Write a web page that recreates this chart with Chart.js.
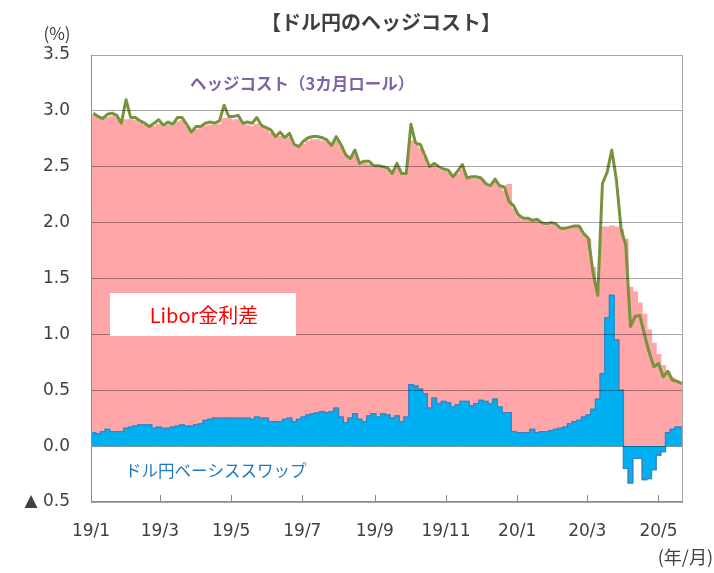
<!DOCTYPE html>
<html lang="ja">
<head>
<meta charset="utf-8">
<title>ドル円のヘッジコスト</title>
<script src="https://cdn.jsdelivr.net/npm/chart.js@4.4.1/dist/chart.umd.min.js"></script>
<style>
  html, body { margin: 0; padding: 0; background: #fff; }
  #wrap { width: 714px; height: 573px; position: relative; }
</style>
</head>
<body>
<div id="wrap"><canvas id="chart"></canvas></div>
<script>
// observation dates (days counted from 2019/1/1)
const days = [
  2, 6, 10, 14, 18, 22, 26, 30, 34, 38,
  42, 46, 50, 54, 58, 62, 66, 70, 74, 78,
  82, 86, 90, 94, 98, 102, 106, 110, 114, 118,
  122, 126, 130, 134, 138, 142, 146, 150, 154, 158,
  162, 166, 170, 174, 178, 182, 186, 190, 194, 198,
  202, 206, 210, 214, 218, 222, 226, 230, 234, 238,
  242, 246, 250, 254, 258, 262, 266, 270, 274, 278,
  282, 286, 290, 294, 298, 302, 306, 310, 314, 318,
  322, 326, 330, 334, 338, 342, 346, 350, 354, 358,
  362, 366, 370, 374, 378, 382, 386, 390, 394, 398,
  402, 406, 410, 414, 418, 422, 426, 430, 434, 438,
  442, 446, 450, 454, 458, 462, 466, 470, 474, 478,
  482, 486, 490, 494, 498, 502, 506
];

// ヘッジコスト（3カ月ロール） %
const hedgeCost = [
  2.98, 2.95, 2.93, 2.97, 2.98, 2.96, 2.89, 3.10, 2.94, 2.94,
  2.91, 2.89, 2.86, 2.89, 2.92, 2.87, 2.90, 2.88, 2.94, 2.94,
  2.88, 2.81, 2.86, 2.86, 2.89, 2.90, 2.89, 2.91, 3.05, 2.95,
  2.95, 2.96, 2.89, 2.90, 2.89, 2.94, 2.87, 2.85, 2.83, 2.77,
  2.81, 2.76, 2.80, 2.70, 2.68, 2.73, 2.76, 2.77, 2.77, 2.76,
  2.74, 2.69, 2.77, 2.70, 2.61, 2.57, 2.65, 2.53, 2.55, 2.55,
  2.51, 2.51, 2.50, 2.49, 2.44, 2.53, 2.44, 2.44, 2.88, 2.71,
  2.70, 2.60, 2.50, 2.53, 2.50, 2.48, 2.47, 2.41, 2.46, 2.52,
  2.40, 2.41, 2.41, 2.40, 2.35, 2.33, 2.39, 2.33, 2.32, 2.19,
  2.15, 2.07, 2.04, 2.04, 2.02, 2.03, 2.00, 1.99, 2.00, 1.99,
  1.95, 1.95, 1.96, 1.97, 1.97, 1.90, 1.86, 1.55, 1.35, 2.35,
  2.45, 2.65, 2.38, 1.94, 1.80, 1.07, 1.16, 1.17, 1.00, 0.84,
  0.71, 0.74, 0.62, 0.67, 0.59, 0.58, 0.56
];

// ドル円ベーシススワップ %
const basisSwap = [
  0.12, 0.11, 0.13, 0.15, 0.13, 0.13, 0.13, 0.16, 0.17, 0.18,
  0.19, 0.19, 0.19, 0.16, 0.17, 0.16, 0.16, 0.17, 0.18, 0.19,
  0.18, 0.18, 0.19, 0.20, 0.23, 0.24, 0.25, 0.25, 0.25, 0.25,
  0.25, 0.25, 0.25, 0.25, 0.24, 0.26, 0.25, 0.25, 0.22, 0.22,
  0.22, 0.24, 0.25, 0.22, 0.24, 0.26, 0.28, 0.29, 0.30, 0.31,
  0.30, 0.31, 0.34, 0.26, 0.21, 0.25, 0.29, 0.24, 0.22, 0.27,
  0.29, 0.26, 0.29, 0.28, 0.25, 0.27, 0.22, 0.26, 0.55, 0.54,
  0.51, 0.47, 0.34, 0.43, 0.38, 0.40, 0.39, 0.35, 0.37, 0.40,
  0.40, 0.36, 0.38, 0.41, 0.40, 0.38, 0.42, 0.35, 0.30, 0.30,
  0.13, 0.12, 0.12, 0.12, 0.15, 0.12, 0.13, 0.13, 0.14, 0.15,
  0.16, 0.17, 0.20, 0.22, 0.23, 0.26, 0.28, 0.33, 0.42, 0.65,
  1.15, 1.35, 0.95, 0.50, -0.20, -0.33, -0.11, -0.11, -0.30, -0.29,
  -0.21, -0.08, -0.05, 0.12, 0.15, 0.17, 0.17
];

// Libor金利差 %
const liborSpread = [
  2.84, 2.83, 2.79, 2.79, 2.82, 2.81, 2.77, 2.76, 2.75, 2.73,
  2.70, 2.68, 2.66, 2.70, 2.71, 2.69, 2.71, 2.69, 2.72, 2.72,
  2.68, 2.62, 2.64, 2.64, 2.63, 2.63, 2.62, 2.63, 2.68, 2.68,
  2.67, 2.67, 2.63, 2.62, 2.62, 2.62, 2.60, 2.58, 2.58, 2.54,
  2.55, 2.50, 2.51, 2.47, 2.43, 2.44, 2.45, 2.45, 2.44, 2.42,
  2.42, 2.37, 2.39, 2.42, 2.39, 2.30, 2.31, 2.28, 2.31, 2.25,
  2.20, 2.23, 2.19, 2.19, 2.19, 2.22, 2.22, 2.18, 2.18, 2.15,
  2.15, 2.11, 2.15, 2.08, 2.10, 2.06, 2.06, 2.05, 2.06, 2.07,
  1.99, 2.03, 2.01, 1.97, 1.94, 1.94, 1.94, 1.97, 1.98, 2.04,
  1.99, 1.93, 1.90, 1.90, 1.86, 1.89, 1.86, 1.84, 1.84, 1.82,
  1.78, 1.77, 1.75, 1.74, 1.73, 1.64, 1.57, 1.27, 1.00, 1.31,
  0.81, 0.62, 1.01, 1.44, 1.85, 1.42, 1.38, 1.28, 1.18, 1.04,
  0.92, 0.82, 0.72, 0.54, 0.46, 0.41, 0.39
];

// x axis ticks: first day of every other month
const tickDays = [0, 59, 120, 181, 243, 304, 365, 425, 486];
const tickLabels = ['19/1', '19/3', '19/5', '19/7', '19/9', '19/11', '20/1', '20/3', '20/5'];

const JP = "'Noto Sans CJK JP', 'Noto Sans', sans-serif";
const NUM = "'DejaVu Sans', Verdana, sans-serif";
const TEXT = '#404040';

const pts = arr => days.map((d, i) => ({x: d, y: arr[i]}));

// frame, inward ticks and the text labels on the chart
const decorations = {
  id: 'decorations',
  afterDraw(chart) {
    const {ctx, chartArea: a} = chart;
    const xs = chart.scales.x;
    ctx.save();
    ctx.strokeStyle = '#A6A6A6';
    ctx.lineWidth = 1;
    ctx.strokeRect(a.left + 0.5, a.top + 0.5, a.right - a.left - 1, a.bottom - a.top - 1);
    ctx.strokeStyle = '#8C8C8C';
    ctx.beginPath(); ctx.moveTo(a.left + 0.5, a.top); ctx.lineTo(a.left + 0.5, a.bottom); ctx.stroke();
    ctx.beginPath(); ctx.moveTo(a.left, a.bottom - 0.5); ctx.lineTo(a.right, a.bottom - 0.5); ctx.stroke();
    xs.ticks.forEach(t => {
      const px = Math.round(xs.getPixelForValue(t.value)) + 0.5;
      ctx.beginPath(); ctx.moveTo(px, a.bottom); ctx.lineTo(px, a.bottom - 7); ctx.stroke();
    });

    ctx.textBaseline = 'middle';
    ctx.textAlign = 'center';
    ctx.fillStyle = TEXT;
    ctx.font = `bold 20px ${JP}`;
    ctx.fillText('【ドル円のヘッジコスト】', 381, 22);
    ctx.font = `17px ${JP}`;
    ctx.fillText('(%)', 57, 34);
    ctx.textAlign = 'right';
    ctx.font = `18px ${JP}`;
    ctx.fillText('(年/月)', 713, 557);

    ctx.textAlign = 'left';
    ctx.fillStyle = '#7F62A8';
    ctx.font = `bold 16.5px ${JP}`;
    ctx.fillText('ヘッジコスト（3カ月ロール）', 190, 84);

    ctx.fillStyle = '#FFFFFF';
    ctx.fillRect(110, 293, 186, 43);
    ctx.textAlign = 'center';
    ctx.fillStyle = '#FF0000';
    ctx.font = `20px ${JP}`;
    ctx.fillText('Libor金利差', 204, 315);

    ctx.textAlign = 'left';
    ctx.fillStyle = '#1F78C4';
    ctx.font = `16.5px ${JP}`;
    ctx.fillText('ドル円ベーシススワップ', 125, 471);
    ctx.restore();
  }
};

new Chart(document.getElementById('chart'), {
  type: 'bar',
  data: {
    datasets: [
      {
        type: 'line',
        label: 'ヘッジコスト（3カ月ロール）',
        data: pts(hedgeCost),
        borderColor: '#77933C',
        borderWidth: 3,
        borderJoinStyle: 'round',
        pointRadius: 0,
        tension: 0,
        stack: 'line',
        order: 0
      },
      {
        // outline of the basis swap area
        type: 'line',
        label: 'basis outline',
        data: pts(basisSwap),
        borderColor: '#3F7FC0',
        borderWidth: 1.2,
        stepped: 'middle',
        pointRadius: 0,
        stack: 'outline',
        order: 1
      },
      {
        label: 'ドル円ベーシススワップ',
        data: pts(basisSwap),
        backgroundColor: '#00B0F0',
        borderWidth: 0,
        inflateAmount: 0.6,
        stack: 'bars',
        order: 2
      },
      {
        label: 'Libor金利差',
        data: pts(liborSpread),
        backgroundColor: '#FFA6A8',
        borderWidth: 0,
        inflateAmount: 0.6,
        stack: 'bars',
        order: 2
      }
    ]
  },
  options: {
    responsive: true,
    maintainAspectRatio: false,
    animation: false,
    barPercentage: 1,
    categoryPercentage: 1,
    layout: {padding: {top: 55, right: 31, bottom: 0, left: 0}},
    plugins: {legend: {display: false}, tooltip: {enabled: false}, title: {display: false}},
    scales: {
      x: {
        type: 'linear',
        min: 0,
        max: 507,
        offset: false,
        grid: {display: false},
        border: {display: false},
        afterBuildTicks: s => { s.ticks = tickDays.map(v => ({value: v})); },
        afterFit: s => { s.height = 71; },
        ticks: {
          autoSkip: false,
          maxRotation: 0,
          padding: 11,
          color: TEXT,
          font: {family: NUM, size: 17},
          callback: (v, i) => tickLabels[i]
        }
      },
      y: {
        stacked: true,
        min: -0.5,
        max: 3.5,
        // drawn over the bars, translucent so it darkens the pink like the original
        grid: {color: 'rgba(0, 0, 0, 0.35)', lineWidth: 1, drawTicks: false, z: 1},
        border: {display: false},
        afterFit: s => { s.width = 91; },
        ticks: {
          stepSize: 0.5,
          padding: 21,
          color: TEXT,
          font: {family: NUM, size: 17},
          callback: v => v < 0 ? '▲ ' + Math.abs(v).toFixed(1) : v.toFixed(1)
        }
      }
    }
  },
  plugins: [decorations]
});
</script>
</body>
</html>
